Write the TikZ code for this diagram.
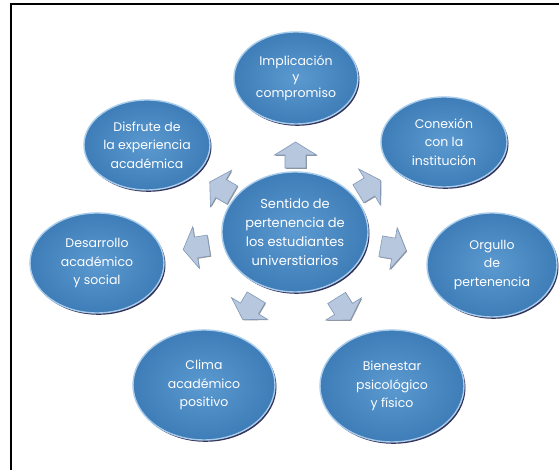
\documentclass[tikz,border=0pt]{standalone}
\usepackage{fontspec}
\setmainfont{Poppins}
\usepackage{tikz}
\usetikzlibrary{calc}
\usetikzlibrary{shapes.geometric}
\usetikzlibrary{shadows}

\definecolor{azulcirc}{HTML}{5B99D0}
\definecolor{azulborde}{HTML}{A8CCEB}
\definecolor{azulosc}{HTML}{3F7DB8}
\definecolor{flechafill}{HTML}{B7C8DE}
\definecolor{flechaborde}{HTML}{8098B8}

\tikzset{
	circulo/.style={ellipse, inner color=azulcirc, outer color=azulosc, draw=azulborde, line width=1.4pt,
		drop shadow={shadow xshift=1.5pt, shadow yshift=-1.8pt, fill=black!80!blue, opacity=0.8},
		text=white, align=center, font=\fontsize{12.5}{18.5}\selectfont, inner sep=0pt},
	flecha/.style={fill=flechafill, draw=flechaborde, line width=0.6pt, line join=miter,
		drop shadow={shadow xshift=0.8pt, shadow yshift=-0.8pt, fill=black!70, opacity=0.6}}
}

\newcommand{\flechabloque}[3]{\draw[flecha, shift={($(#1)!0.5!(#2)$)}, rotate=#3] (-13,-10.5) -- (0,-10.5) -- (0,-21) -- (13,0) -- (0,21) -- (0,10.5) -- (-13,10.5) -- cycle;}

\begin{document}
\begin{tikzpicture}[x=1pt, y=1pt]
				\useasboundingbox (0,0) rectangle (559,470);
				\fill[white] (0,0) rectangle (559,470);
				\draw[line width=2pt] (11,0) -- (11,466) -- (559,466);

				\node[circulo, minimum width=146pt, minimum height=120pt, font=\fontsize{13}{19}\selectfont] (sentido) at (295,238) {Sentido de\\pertenencia de\\los estudiantes\\universtiarios};
				\node[circulo, minimum width=124pt, minimum height=92pt, font=\fontsize{12.5}{16}\selectfont] (implica) at (296,392) {Implicación\\y\\compromiso};
				\node[circulo, minimum width=126pt, minimum height=90pt] (disfrute) at (147,325) {Disfrute de\\la experiencia\\académica};
				\node[circulo, minimum width=126pt, minimum height=90pt] (conexion) at (444,328) {Conexión\\con la\\institución};
				\node[circulo, minimum width=134pt, minimum height=100pt] (desarrollo) at (97,207) {Desarrollo\\académico\\y social};
				\node[circulo, minimum width=130pt, minimum height=104pt] (orgullo) at (492,205) {Orgullo\\de\\pertenencia};
				\node[circulo, minimum width=142pt, minimum height=110pt] (clima) at (204,85) {Clima\\académico\\positivo};
				\node[circulo, minimum width=144pt, minimum height=112pt] (bienestar) at (392,84) {Bienestar\\psicológico\\y físico};

				\flechabloque{sentido}{implica}{90}
				\flechabloque{sentido}{disfrute}{150}
				\flechabloque{sentido}{conexion}{31}
				\flechabloque{sentido}{desarrollo}{189}
				\flechabloque{sentido}{orgullo}{350}
				\flechabloque{sentido}{clima}{239}
				\flechabloque{sentido}{bienestar}{302}
			\end{tikzpicture}
\end{document}
